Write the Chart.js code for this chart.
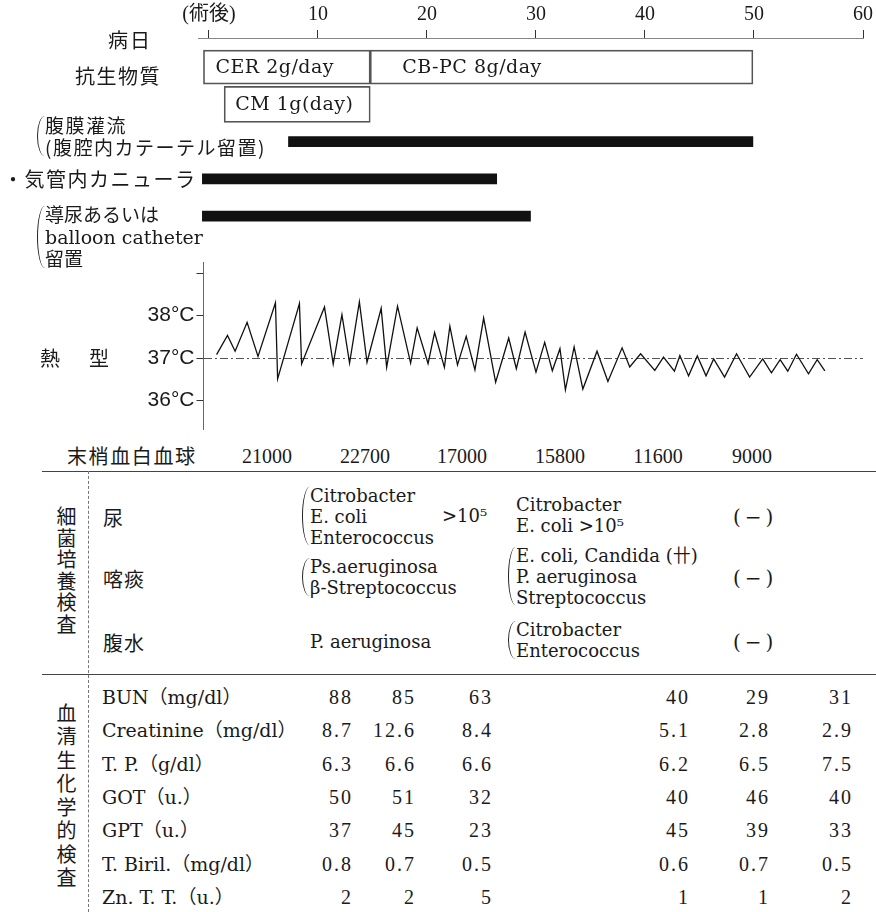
<!DOCTYPE html>
<html>
<head>
<meta charset="utf-8">
<script src="https://cdn.jsdelivr.net/npm/chart.js@4.4.1/dist/chart.umd.min.js"></script>
<style>
  body { margin: 0; background: #fff; }
  #page { position: relative; width: 876px; height: 912px; overflow: hidden; background: #fff; color: #1a1a1a;
          font-family: "DejaVu Serif", "Noto Sans CJK JP", serif; }
  canvas { position: absolute; left: 0; display: block; }
  .txt { position: absolute; white-space: pre; line-height: 1; transform: translateY(-50%); }
  .jp { font-family: "Noto Sans CJK JP", sans-serif; font-size: 20px; }
  .lat { font-family: "DejaVu Serif", "Noto Sans CJK JP", serif; font-size: 18px; }
  .num { font-family: "Liberation Serif", serif; font-size: 20px; }
  .grp { position: absolute; white-space: pre; transform: translateY(-50%); }
  .brk { position: absolute; left: -8px; top: 2px; bottom: 2px; width: 7px;
         border-left: 1.4px solid #222; border-radius: 8px 0 0 8px / 50% 0 0 50%; }
  .vert { position: absolute; writing-mode: vertical-rl; white-space: nowrap; height: max-content;
          transform: translate(-50%, -50%);
          font-family: "Noto Sans CJK JP", sans-serif; font-size: 20px; line-height: 1; }
  .rule { position: absolute; }
</style>
</head>
<body>
<div id="page">
  <canvas id="treat" width="876" height="255" style="top:0"></canvas>
  <canvas id="fever" width="876" height="180" style="top:255px"></canvas>
</div>
<script>
// day axis
const dayTicks = [0, 10, 20, 30, 40, 50, 60];

// antibiotics (boxes) and devices (black bars), in days after surgery
const abxNames = ['CER 2g/day', 'CB-PC 8g/day', 'CM 1g(day)'];
const abxStart = [-0.5, 14.8, 1.4];
const abxEnd = [14.8, 49.9, 14.8];
const abxRow = [0, 0, 1];
const deviceStart = [7.3, -0.6, -0.6];
const deviceEnd = [49.9, 26.4, 29.5];
const deviceRow = [2, 3, 4];

// fever chart
const tempDays = [0.7, 1.7, 2.4, 3.5, 4.5, 6.1, 6.3, 8.3, 8.5, 10.6, 11.4, 12.2, 12.9, 13.8, 14.5,
  15.8, 16.3, 17.3, 18.5, 19.1, 20.1, 20.7, 21.6, 22.1, 22.8, 23.6, 24.4, 25.2, 26.3, 27.5,
  28.2, 29.0, 30.0, 30.8, 31.5, 32.2, 32.7, 33.5, 34.3, 35.6, 36.6, 37.9, 38.6, 39.6, 40.9,
  41.7, 42.7, 43.2, 44.0, 44.8, 45.6, 46.3, 47.3, 48.4, 49.6, 50.8, 51.6, 52.4, 53.1, 53.9,
  55.0, 55.8, 56.5];
const tempValues = [37.08, 37.53, 37.16, 37.84, 37.04, 38.30, 36.51, 38.28, 36.86, 38.20, 36.86, 38.02, 36.88, 38.32, 36.90,
  38.17, 36.78, 38.22, 36.88, 37.71, 36.87, 37.60, 36.78, 37.75, 36.84, 37.51, 36.72, 37.94, 36.43, 37.47,
  36.75, 37.61, 36.67, 37.37, 36.70, 37.22, 36.25, 37.26, 36.27, 37.16, 36.45, 37.24, 36.79, 37.10, 36.71,
  37.02, 36.69, 37.06, 36.58, 37.05, 36.58, 36.98, 36.55, 37.10, 36.55, 36.98, 36.65, 36.96, 36.69, 37.09,
  36.63, 36.96, 36.70];
const tempTicks = [36, 37, 38, 39];

// white blood cells
const wbcCounts = ['21000', '22700', '17000', '15800', '11600', '9000'];

// bacterial cultures
const cultureSites = ['尿', '喀痰', '腹水'];
const cultureFirst = [['Citrobacter', 'E. coli', 'Enterococcus'], ['Ps.aeruginosa', 'β-Streptococcus'], ['P. aeruginosa']];
const cultureFirstCount = ['>10⁵', '', ''];
const cultureSecond = [['Citrobacter', 'E. coli >10⁵'], ['E. coli, Candida (卄)', 'P. aeruginosa', 'Streptococcus'], ['Citrobacter', 'Enterococcus']];
const cultureThird = ['(−)', '(−)', '(−)'];
const firstBracket = [true, true, false];
const secondBracket = [false, true, true];

// serum chemistry
const bioTests = ['BUN（mg/dl）', 'Creatinine（mg/dl）', 'T. P.（g/dl）', 'GOT（u.）', 'GPT（u.）', 'T. Biril.（mg/dl）', 'Zn. T. T.（u.）'];
const bioValues = [
  ['88', '85', '63', '40', '29', '31'],
  ['8.7', '12.6', '8.4', '5.1', '2.8', '2.9'],
  ['6.3', '6.6', '6.6', '6.2', '6.5', '7.5'],
  ['50', '51', '32', '40', '46', '40'],
  ['37', '45', '23', '45', '39', '33'],
  ['0.8', '0.7', '0.5', '0.6', '0.7', '0.5'],
  ['2', '2', '5', '1', '1', '2']
];

const page = document.getElementById('page');

function put(text, x, y, cls, extra) {
  const d = document.createElement('div');
  d.className = 'txt ' + cls;
  d.textContent = text;
  d.style.left = x + 'px';
  d.style.top = y + 'px';
  if (extra) Object.assign(d.style, extra);
  page.appendChild(d);
  return d;
}

function group(lines, x, y, cls, pitch, bracket, extra) {
  const d = document.createElement('div');
  d.className = 'grp ' + cls;
  d.textContent = lines.join('\n');
  d.style.left = x + 'px';
  d.style.top = y + 'px';
  d.style.lineHeight = pitch + 'px';
  if (extra) Object.assign(d.style, extra);
  if (bracket) {
    const b = document.createElement('span');
    b.className = 'brk';
    d.appendChild(b);
  }
  page.appendChild(d);
  return d;
}

function rule(x, y, w, h, css) {
  const d = document.createElement('div');
  d.className = 'rule';
  Object.assign(d.style, { left: x + 'px', top: y + 'px', width: w + 'px', height: h + 'px' }, css);
  page.appendChild(d);
}

function vertical(text, x, y, spacing) {
  const d = document.createElement('div');
  d.className = 'vert';
  d.textContent = text;
  Object.assign(d.style, { left: x + 'px', top: y + 'px', letterSpacing: spacing + 'px' });
  page.appendChild(d);
}

// no extra room for edge labels: chart areas are set by the layout padding only
function noEdgePad(s) {
  s.paddingTop = 0;
  s.paddingBottom = 0;
}

// text inside the antibiotic boxes
const boxText = {
  id: 'boxText',
  afterDatasetsDraw(chart) {
    const ctx = chart.ctx;
    ctx.save();
    ctx.font = '19px "DejaVu Serif"';
    ctx.fillStyle = '#1a1a1a';
    ctx.textBaseline = 'middle';
    ctx.letterSpacing = '0.5px';
    chart.data.datasets.forEach((ds, di) => {
      if (!ds.names) return;
      chart.getDatasetMeta(di).data.forEach((bar, i) => {
        const left = Math.min(bar.x, bar.base);
        ctx.fillText(ds.names[i], left + ds.textPad[i], bar.y + 1);
      });
    });
    ctx.restore();
  }
};

function abxData(row) {
  const idx = abxRow.map((r, i) => i).filter(i => abxRow[i] === row);
  return {
    data: idx.map(i => ({ x: [abxStart[i], abxEnd[i]], y: abxRow[i] })),
    names: idx.map(i => abxNames[i])
  };
}
const abxTop = abxData(0);
const abxLow = abxData(1);

new Chart(document.getElementById('treat'), {
  type: 'bar',
  data: {
    datasets: [
      { data: abxTop.data, names: abxTop.names, textPad: [12, 32], stack: 'a', barThickness: 34,
        backgroundColor: 'rgba(0,0,0,0)', borderColor: '#555', borderWidth: 1, borderSkipped: false },
      { data: abxLow.data, names: abxLow.names, textPad: [11], stack: 'a', barThickness: 36,
        backgroundColor: 'rgba(0,0,0,0)', borderColor: '#555', borderWidth: 1, borderSkipped: false },
      { data: deviceStart.map((s, i) => ({ x: [s, deviceEnd[i]], y: deviceRow[i] })), stack: 'a', barThickness: 10,
        backgroundColor: '#111', borderWidth: 0 }
    ]
  },
  options: {
    indexAxis: 'y',
    responsive: false,
    animation: false,
    layout: { padding: { left: 198, right: 13, top: 0, bottom: 5 } },
    plugins: { legend: { display: false }, tooltip: { enabled: false } },
    scales: {
      x: {
        type: 'linear', position: 'top', min: -1, max: 60, stacked: false, offset: false,
        afterBuildTicks: s => { s.ticks = dayTicks.map(v => ({ value: v })); },
        afterFit: s => { s.height = 38; noEdgePad(s); },
        ticks: {
          callback: v => v === 0 ? '(術後)' : String(v),
          font: { family: '"Liberation Serif", "Noto Sans CJK JP"', size: 20 },
          color: '#1a1a1a', padding: 3, maxRotation: 0, autoSkip: false
        },
        grid: { drawOnChartArea: false, offset: false, tickLength: 8, tickColor: '#333', tickWidth: 1 },
        border: { display: true, color: '#888', width: 1, dash: [6, 2] }
      },
      y: {
        type: 'linear', reverse: true, min: -0.78, max: 4.91, display: false,
        offset: false, grid: { offset: false }, afterFit: noEdgePad
      }
    }
  },
  plugins: [boxText]
});

new Chart(document.getElementById('fever'), {
  type: 'line',
  data: {
    datasets: [{
      data: tempDays.map((d, i) => ({ x: d, y: tempValues[i] })),
      borderColor: '#111', borderWidth: 1.3, pointRadius: 0, tension: 0, fill: false
    }]
  },
  options: {
    responsive: false,
    animation: false,
    layout: { padding: { left: 0, right: 13, top: 7, bottom: 6 } },
    plugins: { legend: { display: false }, tooltip: { enabled: false } },
    scales: {
      x: { type: 'linear', min: -0.5, max: 60, display: false },
      y: {
        type: 'linear', min: 35.33, max: 39.26,
        afterFit: s => { s.width = 203.5; noEdgePad(s); },
        afterBuildTicks: s => { s.ticks = tempTicks.map(v => ({ value: v })); },
        ticks: {
          callback: v => v === 39 ? '' : v + '°C',
          font: { family: '"Liberation Sans"', size: 21 },
          color: '#1a1a1a', padding: 2
        },
        grid: {
          color: c => (c.tick && c.tick.value === 37) ? '#555' : 'rgba(0,0,0,0)',
          tickLength: 7, tickColor: '#333', tickBorderDash: [], lineWidth: 1
        },
        border: { display: true, color: '#666', width: 1, dash: [8, 3, 2, 3] }
      }
    }
  }
});

// left-hand labels of the upper part
put('病日', 108, 40, 'jp', { letterSpacing: '2px' });
put('抗生物質', 75, 76, 'jp', { letterSpacing: '1.5px' });
group(['腹膜灌流', '(腹腔内カテーテル留置)'], 45, 136, 'jp', 22, true, { fontSize: '19px', letterSpacing: '1.5px' });
put('・気管内カニューラ', 3, 179, 'jp', { letterSpacing: '1.5px' });
const cath = group(['導尿あるいは', 'balloon catheter', '留置'], 45, 237, 'jp', 22, true, { fontSize: '19px' });
cath.style.fontFamily = '"DejaVu Serif", "Noto Sans CJK JP", serif';
put('熱　型', 40, 358, 'jp', { letterSpacing: '4.5px' });

// white blood cells row
put('末梢血白血球', 67, 456, 'jp', { letterSpacing: '1.6px' });
const wbcX = [267, 365, 462, 560, 658, 752];
wbcCounts.forEach((v, i) => put(v, wbcX[i], 456, 'num', { transform: 'translate(-50%, -50%)' }));

// rules
rule(42, 471, 834, 0, { borderTop: '1.5px solid #444' });
rule(42, 674, 834, 0, { borderTop: '1.5px solid #444' });
rule(88, 471, 0, 441, { borderLeft: '1px dashed #777' });

// bacterial cultures
vertical('細菌培養検査', 66, 571, 1.5);

const siteY = [517, 578, 642];
cultureSites.forEach((s, i) => {
  put(s, 103, siteY[i] + 1, 'jp', { letterSpacing: '1px' });
  group(cultureFirst[i], 310, siteY[i] - 1, 'lat', 21, firstBracket[i]);
  if (cultureFirstCount[i]) put(cultureFirstCount[i], 442, siteY[i] - 1, 'lat');
  group(cultureSecond[i], 516, siteY[i] - 2, 'lat', 21, secondBracket[i]);
  put(cultureThird[i], 733, siteY[i], 'lat', { fontSize: '20px', letterSpacing: '4px' });
});

// serum chemistry
vertical('血清生化学的検査', 66, 797, 3.5);

const bioRight = [353, 416, 493, 690, 770, 853];
bioTests.forEach((t, r) => {
  const y = 697 + r * 33.3;
  put(t, 102, y, 'lat', { fontSize: '19px' });
  bioValues[r].forEach((v, c) => {
    put(v, bioRight[c], y, 'num', { transform: 'translate(-100%, -50%)', letterSpacing: '2px' });
  });
});
</script>
</body>
</html>
